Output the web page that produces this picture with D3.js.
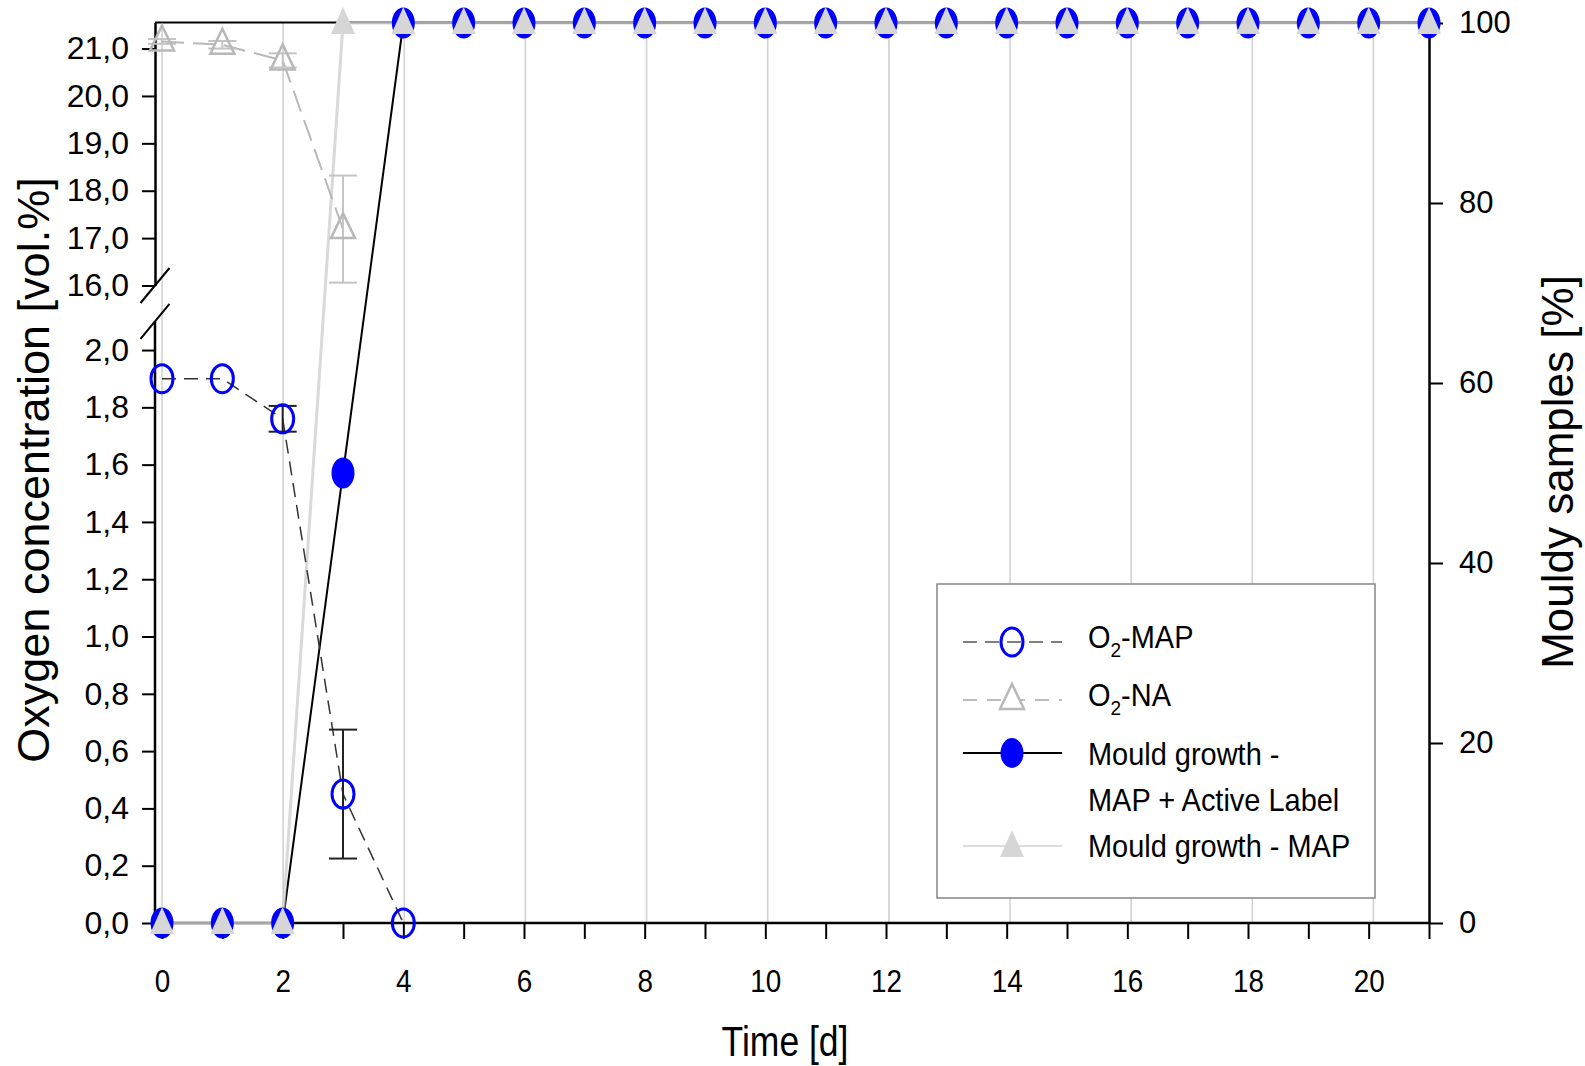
<!DOCTYPE html>
<html>
<head>
<meta charset="utf-8">
<script src="https://cdn.jsdelivr.net/npm/d3@7"></script>
<style>
  html, body { margin: 0; padding: 0; background: #fff; }
  svg text { font-family: "Liberation Sans", Arial, sans-serif; fill: #000; }
</style>
</head>
<body>
<svg id="chart" width="1585" height="1066"></svg>
<script>
// ---- data ----
const days = [0, 1, 2, 3, 4, 5, 6, 7, 8, 9, 10, 11, 12, 13, 14, 15, 16, 17, 18, 19, 20, 21];
const dayLabels = [0, 2, 4, 6, 8, 10, 12, 14, 16, 18, 20];

// oxygen in MAP packs (lower, low-range segment of the left axis)
const o2MapDays = [0, 1, 2, 3, 4];
const o2MapMean = [1.90, 1.90, 1.76, 0.45, 0.00];
const o2MapErr  = [0, 0, 0.045, 0.225, 0];

// oxygen in non-active packs (upper segment of the left axis)
const o2NaDays = [0, 1, 2, 3];
const o2NaMean = [21.15, 21.08, 20.75, 17.19];
const o2NaErr  = [0.05, 0.08, 0.15, 1.13];

// share of mouldy samples, right axis
const mouldActiveLabel = [0, 0, 0, 50, 100, 100, 100, 100, 100, 100, 100, 100, 100, 100, 100, 100, 100, 100, 100, 100, 100, 100];
const mouldMap         = [0, 0, 0, 100, 100, 100, 100, 100, 100, 100, 100, 100, 100, 100, 100, 100, 100, 100, 100, 100, 100, 100];

const upperTicks = [16, 17, 18, 19, 20, 21];
const lowerTicks = [0, 0.2, 0.4, 0.6, 0.8, 1.0, 1.2, 1.4, 1.6, 1.8, 2.0];
const rightTicks = [0, 20, 40, 60, 80, 100];

const legendLabels = ["O2-MAP", "O2-NA", "Mould growth -|MAP + Active Label", "Mould growth - MAP"];

// ---- layout ----
const svg = d3.select("#chart");
const frameLeft = 155, frameRight = 1429, frameTop = 22.5, frameBottom = 923;

const x = d3.scaleLinear().domain([0, 21]).range([162, 1429]);
const xGrid = d3.scaleLinear().domain([0, 21]).range([162, 1434]);
const yUpper = d3.scaleLinear().domain([16, 21.55]).range([285.5, 22.5]);
const yLower = d3.scaleLinear().domain([0, 2.1]).range([923, 321.4]);
const yRight = d3.scaleLinear().domain([0, 100]).range([923, 23]);

const comma = d => d.toFixed(1).replace(".", ",");

// ---- grid ----
svg.append("g").selectAll("line").data(dayLabels).join("line")
  .attr("x1", d => xGrid(d)).attr("x2", d => xGrid(d))
  .attr("y1", frameTop).attr("y2", frameBottom)
  .attr("stroke", "#d2d2d2").attr("stroke-width", 1.6);

// ---- top frame line ----
svg.append("line").attr("x1", frameLeft).attr("x2", frameRight)
  .attr("y1", frameTop).attr("y2", frameTop)
  .attr("stroke", "#000").attr("stroke-width", 2);

// ---- axes ----
function styleAxis(g, fontSize, sx) {
  g.select(".domain").attr("stroke", "#000").attr("stroke-width", 2.5);
  g.selectAll(".tick line").attr("stroke", "#000").attr("stroke-width", 2);
  g.selectAll(".tick text").attr("font-size", fontSize).attr("fill", "#000")
    .style("font-family", '"Liberation Sans", Arial, sans-serif');
  if (sx) g.selectAll(".tick text").attr("transform", `scale(${sx},1)`);
}

// bottom axis
const gx = svg.append("g").attr("transform", `translate(0,${frameBottom})`)
  .call(d3.axisBottom(x).tickValues(days).tickSize(16).tickSizeOuter(0).tickPadding(30)
    .tickFormat(d => (d % 2 === 0 && d <= 20) ? String(d) : ""));
styleAxis(gx, 32, 0.87);
gx.select(".domain").attr("d", `M${frameLeft},0H${frameRight}`);

// left axis, upper segment
const gU = svg.append("g").attr("transform", `translate(${frameLeft},0)`)
  .call(d3.axisLeft(yUpper).tickValues(upperTicks).tickSize(13).tickSizeOuter(0).tickPadding(13).tickFormat(comma));
styleAxis(gU, 32);

// left axis, lower segment
const gL = svg.append("g").attr("transform", `translate(${frameLeft},0)`)
  .call(d3.axisLeft(yLower).tickValues(lowerTicks).tickSize(13).tickSizeOuter(0).tickPadding(13).tickFormat(comma));
styleAxis(gL, 32);
gL.select(".domain").attr("d", `M0,${yLower(2.1)}V${frameBottom}`);

// axis break marks
svg.append("g").selectAll("line").data([yUpper(16), yLower(2.1)]).join("line")
  .attr("x1", frameLeft - 14.5).attr("x2", frameLeft + 14.5)
  .attr("y1", d => d + 17.5).attr("y2", d => d - 17.5)
  .attr("stroke", "#000").attr("stroke-width", 2);

// right axis
const gR = svg.append("g").attr("transform", `translate(${frameRight},0)`)
  .call(d3.axisRight(yRight).tickValues(rightTicks).tickSize(14).tickSizeOuter(0).tickPadding(16));
styleAxis(gR, 31);

// ---- axis titles ----
svg.append("text").attr("transform", "translate(49,470) rotate(-90)")
  .attr("text-anchor", "middle").attr("font-size", 45)
  .text("Oxygen concentration [vol.%]");
svg.append("text").attr("transform", "translate(1573,472) rotate(-90)")
  .attr("text-anchor", "middle").attr("font-size", 44)
  .text("Mouldy samples [%]");
svg.append("text").attr("transform", "translate(785,1056) scale(0.845,1)")
  .attr("text-anchor", "middle").attr("font-size", 42)
  .text("Time [d]");

// ---- series lines ----
const o2Map = o2MapDays.map((d, i) => ({ d, v: o2MapMean[i], e: o2MapErr[i] }));
const o2Na = o2NaDays.map((d, i) => ({ d, v: o2NaMean[i], e: o2NaErr[i] }));
const mA = days.map((d, i) => ({ d, v: mouldActiveLabel[i] }));
const mM = days.map((d, i) => ({ d, v: mouldMap[i] }));

const plot = svg.append("g");

// mould growth with active label: solid black
plot.append("path").datum(mA)
  .attr("d", d3.line().x(p => x(p.d)).y(p => yRight(p.v)))
  .attr("fill", "none").attr("stroke", "#000").attr("stroke-width", 2);

// mould growth MAP: pale grey solid
plot.append("path").datum(mM)
  .attr("d", d3.line().x(p => x(p.d)).y(p => yRight(p.v)))
  .attr("fill", "none").attr("stroke", "#cfcfcf").attr("stroke-opacity", 0.8).attr("stroke-width", 3);

// O2-NA: light grey dashed, upper scale
plot.append("path").datum(o2Na)
  .attr("d", d3.line().x(p => x(p.d)).y(p => yUpper(p.v)))
  .attr("fill", "none").attr("stroke", "#b8b8b8").attr("stroke-width", 2)
  .attr("stroke-dasharray", "22,9");

// O2-MAP: dark grey dashed, lower scale
plot.append("path").datum(o2Map)
  .attr("d", d3.line().x(p => x(p.d)).y(p => yLower(p.v)))
  .attr("fill", "none").attr("stroke", "#333").attr("stroke-width", 1.5)
  .attr("stroke-dasharray", "14,8");

// ---- error bars ----
function errorBars(data, yScale, color) {
  const g = plot.append("g").attr("stroke", color).attr("stroke-width", 2);
  const withErr = data.filter(p => p.e > 0);
  g.selectAll(".v").data(withErr).join("line")
    .attr("x1", p => x(p.d)).attr("x2", p => x(p.d))
    .attr("y1", p => yScale(p.v - p.e)).attr("y2", p => yScale(p.v + p.e));
  [-1, 1].forEach(s => {
    g.selectAll(".c" + s).data(withErr).join("line")
      .attr("x1", p => x(p.d) - 14).attr("x2", p => x(p.d) + 14)
      .attr("y1", p => yScale(p.v + s * p.e)).attr("y2", p => yScale(p.v + s * p.e));
  });
}
errorBars(o2Na, yUpper, "#c4c4c4");
errorBars(o2Map, yLower, "#222");

// ---- markers ----
const triPath = (apex, base, hw) => `M0,${-apex}L${hw},${base}L${-hw},${base}Z`;

// O2-NA open triangles
plot.append("g").selectAll("path").data(o2Na).join("path")
  .attr("transform", p => `translate(${x(p.d)},${yUpper(p.v)})`)
  .attr("d", triPath(16, 9, 12))
  .attr("fill", "none").attr("stroke", "#b8b8b8").attr("stroke-width", 2.5);

// O2-MAP open circles
plot.append("g").selectAll("ellipse").data(o2Map).join("ellipse")
  .attr("cx", p => x(p.d)).attr("cy", p => yLower(p.v))
  .attr("rx", 11).attr("ry", 14)
  .attr("fill", "none").attr("stroke", "#0000ff").attr("stroke-width", 3);

// mould growth, active label: filled blue
plot.append("g").selectAll("ellipse").data(mA).join("ellipse")
  .attr("cx", p => x(p.d)).attr("cy", p => yRight(p.v))
  .attr("rx", 11.5).attr("ry", 15.5)
  .attr("fill", "#0000ff");

// mould growth MAP: filled grey triangles
plot.append("g").selectAll("path").data(mM).join("path")
  .attr("transform", p => `translate(${x(p.d)},${yRight(p.v)})`)
  .attr("d", triPath(16, 11, 12))
  .attr("fill", "#d6d6d6");

// ---- legend ----
const lg = svg.append("g");
lg.append("rect").attr("x", 937).attr("y", 584).attr("width", 438).attr("height", 314)
  .attr("fill", "#fff").attr("stroke", "#858585").attr("stroke-width", 1.5);

const rowsY = [642, 700, 753, 846];
const lx1 = 963, lx2 = 1062, lmx = 1012, ltx = 1088;

// row 1: O2-MAP
lg.append("line").attr("x1", lx1).attr("x2", lx2).attr("y1", rowsY[0]).attr("y2", rowsY[0])
  .attr("stroke", "#555").attr("stroke-width", 1.5).attr("stroke-dasharray", "14,8");
lg.append("ellipse").attr("cx", lmx).attr("cy", rowsY[0]).attr("rx", 11).attr("ry", 14)
  .attr("fill", "none").attr("stroke", "#0000ff").attr("stroke-width", 3);
// row 2: O2-NA
lg.append("line").attr("x1", lx1).attr("x2", lx2).attr("y1", rowsY[1]).attr("y2", rowsY[1])
  .attr("stroke", "#bcbcbc").attr("stroke-width", 2).attr("stroke-dasharray", "14,10");
lg.append("path").attr("transform", `translate(${lmx},${rowsY[1]})`).attr("d", triPath(16, 9, 12))
  .attr("fill", "#fff").attr("stroke", "#b8b8b8").attr("stroke-width", 2.5);
// row 3: mould growth, active label
lg.append("line").attr("x1", lx1).attr("x2", lx2).attr("y1", rowsY[2]).attr("y2", rowsY[2])
  .attr("stroke", "#000").attr("stroke-width", 2);
lg.append("ellipse").attr("cx", lmx).attr("cy", rowsY[2]).attr("rx", 11.5).attr("ry", 15)
  .attr("fill", "#0000ff");
// row 4: mould growth MAP
lg.append("line").attr("x1", lx1).attr("x2", lx2).attr("y1", rowsY[3]).attr("y2", rowsY[3])
  .attr("stroke", "#dcdcdc").attr("stroke-width", 2);
lg.append("path").attr("transform", `translate(${lmx},${rowsY[3]})`).attr("d", triPath(16, 11, 12))
  .attr("fill", "#d6d6d6");

// legend texts (O2 labels carry a subscript 2)
const legendScale = 0.905;
function o2Label(y, rest) {
  const t = lg.append("text").attr("transform", `translate(${ltx},${y}) scale(${legendScale},1)`)
    .attr("font-size", 32);
  t.append("tspan").text("O");
  t.append("tspan").attr("font-size", 21).attr("dy", 9).text("2");
  t.append("tspan").attr("dy", -9).text(rest);
}
o2Label(648, legendLabels[0].slice(2));
o2Label(706, legendLabels[1].slice(2));
legendLabels[2].split("|").forEach((s, i) => {
  lg.append("text").attr("transform", `translate(${ltx},${765 + i * 46}) scale(${legendScale},1)`)
    .attr("font-size", 32).text(s);
});
lg.append("text").attr("transform", `translate(${ltx},857) scale(${legendScale},1)`)
  .attr("font-size", 32).text(legendLabels[3]);
</script>
</body>
</html>
